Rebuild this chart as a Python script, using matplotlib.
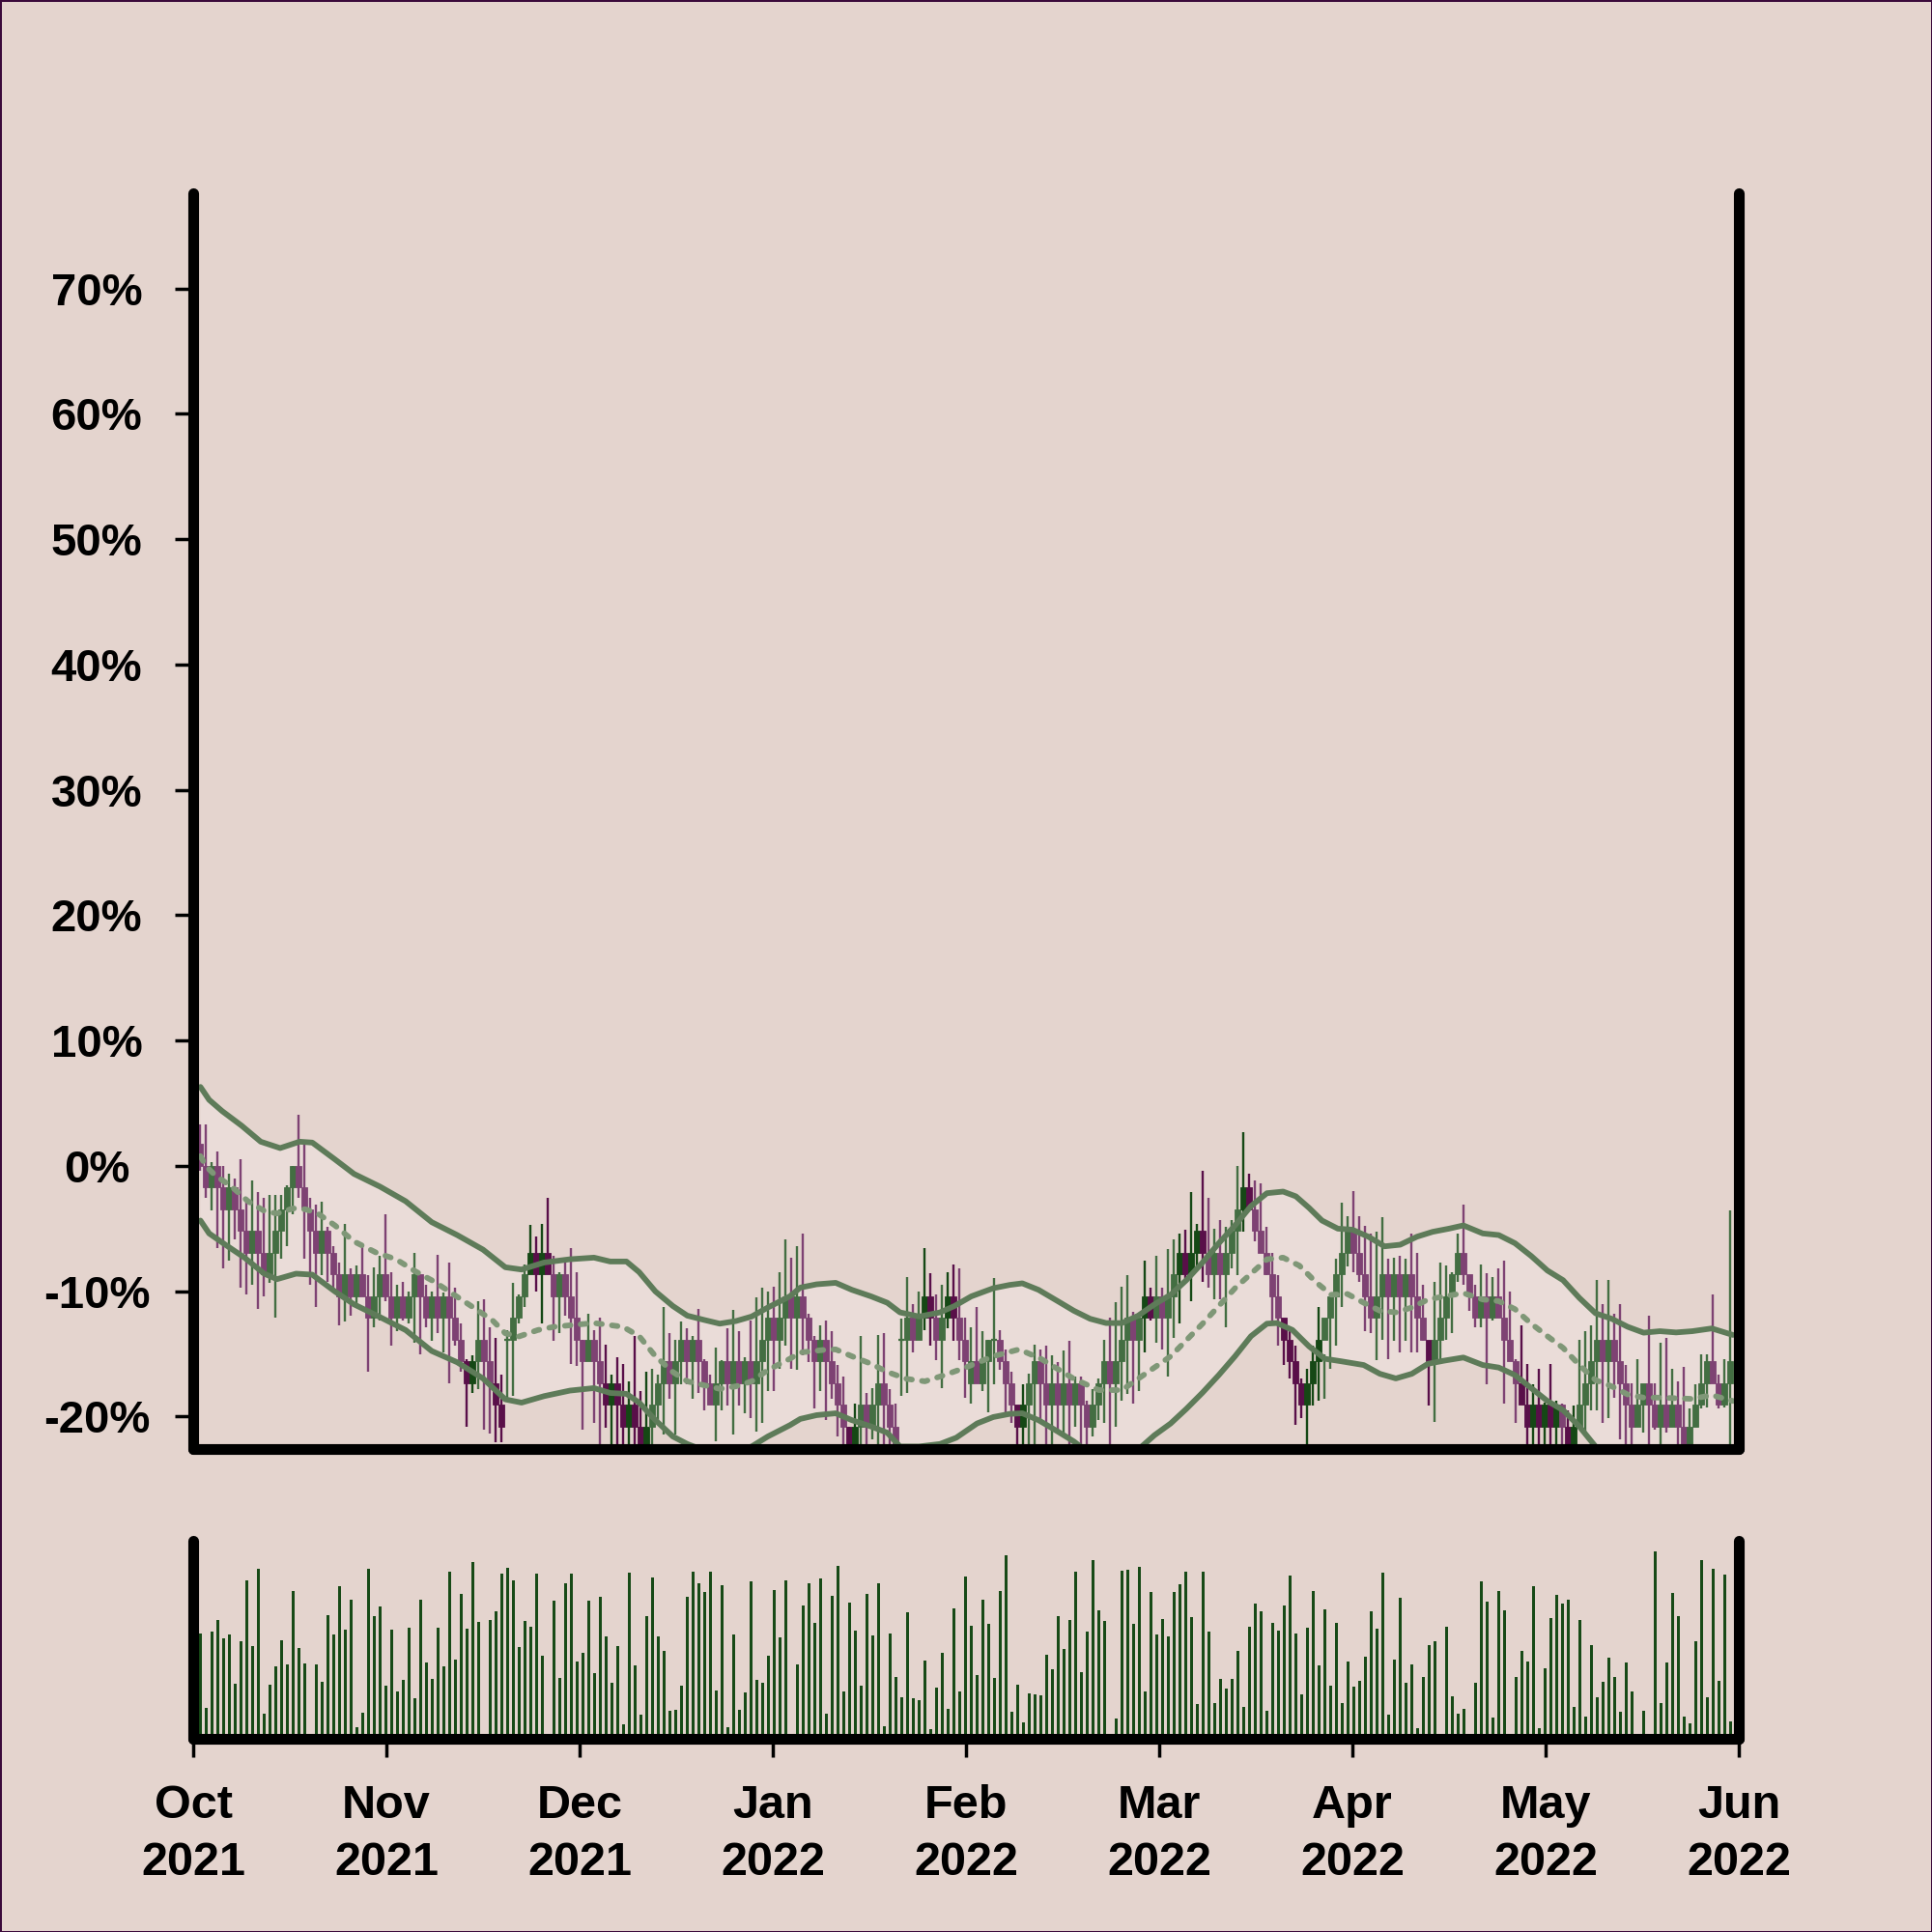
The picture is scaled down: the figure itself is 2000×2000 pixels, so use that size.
import matplotlib.pyplot as plt
import numpy as np

# ---------------------------------------------------------------- data
STEP = 1.733          # one price level, in %

# close level of every candle (k = 0 .. 264)
close_lvl = [0, -1, 0, -1, -2, -1, -2, -3, -4, -3,
             -4, -5, -4, -3, -2, -1, 0, -1, -2, -3,
             -4, -3, -4, -5, -6, -5, -6, -5, -6, -7,
             -6, -5, -6, -7, -6, -7, -6, -5, -6, -7,
             -6, -7, -6, -7, -8, -9, -10, -9, -8, -9,
             -10, -11, -12, -8, -7, -6, -5, -4, -5, -4,
             -5, -6, -5, -6, -7, -8, -9, -8, -9, -10,
             -11, -10, -11, -12, -11, -12, -13, -12, -11, -10,
             -9, -10, -9, -8, -9, -8, -9, -10, -11, -10,
             -9, -10, -9, -10, -9, -10, -9, -8, -7, -8,
             -7, -6, -7, -6, -7, -8, -9, -8, -9, -10,
             -11, -12, -13, -12, -11, -12, -11, -10, -11, -12,
             -13, -8, -7, -8, -7, -6, -7, -8, -7, -6,
             -7, -8, -9, -9, -10, -9, -8, -8, -9, -10,
             -11, -12, -11, -10, -9, -10, -11, -10, -11, -10,
             -11, -10, -11, -12, -11, -10, -9, -10, -9, -8,
             -7, -8, -7, -6, -7, -6, -7, -6, -5, -4,
             -5, -4, -3, -4, -5, -4, -5, -4, -3, -2,
             -1, -2, -3, -4, -5, -6, -7, -8, -9, -10,
             -11, -10, -9, -8, -7, -6, -5, -4, -3, -4,
             -5, -6, -7, -6, -5, -6, -5, -6, -5, -6,
             -7, -8, -9, -8, -7, -6, -5, -4, -5, -6,
             -7, -6, -7, -6, -7, -8, -9, -10, -11, -12,
             -11, -12, -11, -12, -11, -12, -13, -12, -11, -10,
             -9, -8, -9, -8, -9, -10, -11, -12, -11, -10,
             -11, -12, -11, -12, -11, -12, -13, -12, -11, -10,
             -9, -10, -11, -10, -9]
# opens that do not equal the previous close
open_gap = {0: 1, 53: -8, 121: -8, 133: -10}
# candles drawn in the darker shade
dark_idx = [46, 47, 51, 52, 57, 58, 59, 60, 70, 71, 72, 73, 74, 75, 76, 77,
            112, 113, 125, 126, 129, 130, 141, 142, 163, 164, 169, 170, 171,
            172, 173, 180, 181, 187, 188, 189, 190, 191, 192, 193, 212, 228,
            229, 230, 231, 232, 233, 234, 236, 237]

# wick ends in % (-25 = below the visible range)
high = [3.33, 3.33, 0.3, 1.15, 0.0, -0.65, -1.03, 0.51, -2.57, -1.16,
        -2.06, -2.57, -2.32, -2.32, -2.32, -1.55, 0.0, 4.1, 1.66, -2.57,
        -3.09, -2.83, -4.88, -6.43, -7.71, -4.63, -8.22, -7.97, -6.43, -8.74,
        -8.1, -7.2, -3.86, -8.48, -9.51, -9.25, -10.02, -6.94, -8.74, -9.51,
        -10.02, -7.07, -10.15, -7.71, -9.76, -12.59, -15.41, -15.16, -10.79, -10.66,
        -12.85, -13.75, -16.7, -13.1, -9.38, -10.28, -7.84, -4.75, -5.65, -4.62,
        -2.57, -7.2, -8.48, -7.71, -6.55, -8.5, -13.87, -11.82, -13.1, -12.08,
        -14.26, -16.7, -15.29, -15.8, -17.21, -13.62, -17.98, -16.44, -16.19, -16.7,
        -11.3, -13.36, -13.87, -12.46, -12.97, -13.62, -11.43, -15.41, -16.7, -14.52,
        -15.54, -12.97, -11.51, -13.23, -15.29, -12.33, -10.53, -9.76, -10.02, -9.64,
        -8.48, -5.91, -7.32, -6.43, -5.4, -11.82, -13.62, -12.71, -12.33, -13.23,
        -15.93, -16.83, -20.81, -19.01, -13.62, -18.11, -17.72, -13.49, -13.36, -17.85,
        -19.01, -12.2, -8.87, -11.05, -10.02, -6.55, -8.61, -10.28, -9.51, -8.48,
        -7.84, -8.22, -12.08, -12.85, -11.3, -13.23, -13.87, -8.99, -13.1, -14.64,
        -16.44, -19.39, -17.47, -16.57, -14.26, -14.64, -14.39, -15.16, -15.67, -14.77,
        -14.0, -16.83, -16.83, -18.75, -17.85, -16.95, -13.87, -12.08, -10.92, -9.64,
        -8.74, -11.69, -12.97, -7.58, -9.76, -7.2, -9.76, -6.68, -5.91, -5.4,
        -5.14, -2.06, -4.63, -0.39, -2.57, -5.01, -4.37, -4.88, -4.37, 0.0,
        2.69, -0.65, -1.16, -1.42, -4.88, -6.94, -8.74, -12.59, -12.85, -14.39,
        -16.95, -16.19, -14.39, -11.3, -15.03, -11.56, -7.45, -2.96, -4.0, -2.0,
        -3.99, -4.76, -5.4, -5.27, -4.12, -7.45, -7.32, -7.2, -7.45, -5.4,
        -6.94, -9.51, -14.39, -9.25, -7.71, -7.97, -8.48, -5.4, -3.09, -9.12,
        -9.51, -7.84, -8.61, -8.87, -8.22, -7.58, -10.02, -15.41, -12.72, -15.8,
        -17.47, -16.19, -18.88, -15.8, -18.75, -19.01, -19.52, -19.14, -13.87, -13.23,
        -12.72, -9.12, -11.05, -9.12, -11.82, -11.05, -15.93, -17.34, -15.41, -17.47,
        -11.95, -17.34, -14.13, -13.75, -16.19, -17.21, -16.06, -19.39, -17.47, -15.03,
        -15.03, -10.28, -16.7, -15.41, -3.6]
low = [-0.39, -2.57, -3.6, -6.55, -8.22, -7.58, -5.9, -9.76, -10.28, -9.51,
       -11.43, -10.4, -9.38, -12.08, -7.45, -6.43, -3.86, -2.57, -7.45, -9.51,
       -11.3, -8.74, -9.25, -10.02, -12.72, -12.46, -11.95, -11.05, -10.28, -16.44,
       -12.85, -12.33, -10.79, -14.39, -13.23, -12.33, -12.59, -14.13, -15.03, -12.85,
       -14.0, -13.36, -14.9, -17.34, -14.39, -16.44, -20.81, -18.11, -17.85, -21.07,
       -21.33, -22.09, -22.09, -18.5, -18.37, -12.59, -11.3, -7.97, -10.02, -12.59,
       -8.48, -14.0, -13.36, -12.0, -15.8, -16.0, -21.06, -15.16, -20.55, -25,
       -20.94, -25, -25, -25, -25, -25, -25, -25, -25, -20.55,
       -21.45, -18.62, -21.45, -17.47, -17.47, -18.62, -18.11, -19.52, -18.88, -21.96,
       -19.52, -19.14, -21.45, -19.14, -19.78, -20.17, -21.19, -20.55, -17.98, -17.98,
       -16.19, -14.39, -16.19, -16.31, -15.16, -15.67, -19.39, -17.98, -20.29, -18.62,
       -21.58, -25, -25, -25, -25, -25, -21.83, -25, -25, -25,
       -25, -18.37, -18.11, -14.9, -13.87, -13.1, -14.39, -15.5, -17.72, -13.0,
       -14.0, -15.5, -18.5, -19.01, -17.21, -17.98, -19.65, -17.47, -16.31, -19.78,
       -20.55, -25, -25, -25, -25, -20.55, -25, -25, -21.32, -21.58,
       -25, -20.81, -25, -25, -21.58, -20.29, -20.55, -25, -20.81, -18.75,
       -18.24, -19.01, -17.98, -14.9, -12.33, -14.13, -14.64, -16.83, -13.75, -12.59,
       -9.25, -10.79, -8.22, -9.25, -9.76, -10.66, -10.66, -12.85, -8.22, -8.74,
       -5.27, -3.34, -6.04, -6.94, -8.74, -12.33, -14.39, -15.93, -16.95, -20.68,
       -20.17, -25, -19.14, -18.75, -18.62, -16.19, -14.39, -11.3, -8.0, -8.5,
       -9.25, -13.23, -13.36, -15.54, -13.87, -15.41, -14.0, -14.9, -14.0, -14.9,
       -14.9, -14.0, -19.14, -20.42, -15.41, -13.87, -13.36, -9.25, -9.51, -11.56,
       -12.85, -12.85, -17.47, -12.33, -11.82, -19.01, -14.0, -20.55, -19.01, -25,
       -25, -25, -25, -25, -25, -25, -25, -25, -20.68, -21.32,
       -19.52, -19.52, -20.55, -20.17, -18.5, -21.83, -25, -25, -20.17, -21.32,
       -25, -21.07, -25, -21.32, -20.55, -25, -25, -25, -20.55, -19.39,
       -19.27, -17.21, -19.39, -19.27, -25]

# volume (arbitrary units)
volume = [109, 32, 111, 123, 104, 108, 57, 101, 164, 96,
          176, 26, 56, 75, 102, 77, 153, 94, 78, 0,
          77, 59, 128, 108, 158, 113, 144, 12, 27, 176,
          127, 137, 55, 113, 49, 61, 115, 42, 144, 79,
          62, 115, 75, 173, 82, 150, 114, 183, 121, 2,
          123, 132, 171, 177, 164, 95, 122, 116, 171, 86,
          2, 143, 63, 161, 171, 80, 89, 143, 68, 147,
          106, 58, 96, 15, 172, 76, 25, 127, 167, 106,
          91, 29, 30, 55, 147, 173, 161, 152, 173, 50,
          159, 12, 108, 30, 48, 163, 61, 58, 86, 154,
          105, 164, 0, 77, 138, 161, 120, 166, 26, 148,
          179, 49, 141, 112, 55, 150, 107, 161, 13, 109,
          64, 43, 131, 42, 40, 81, 10, 53, 89, 31,
          135, 49, 168, 117,
          66, 144, 119, 63, 153, 190, 28, 56, 17, 47,
          46, 45, 87, 72, 127, 93, 123, 173, 69, 111,
          185, 133, 122, 2, 21, 174, 175, 119, 178, 49,
          152, 108, 124, 106, 152, 160, 173, 126, 36, 173,
          111, 37, 62, 52, 62, 91, 33, 116, 140, 132,
          29, 120, 112, 138, 169, 109, 46, 115, 153, 76,
          134, 55, 120, 37, 80, 54, 60, 85, 132, 114,
          172, 25, 82, 146, 58, 77, 11, 64, 97, 101,
          0, 116, 44, 26, 31, 0, 58, 163, 142, 22,
          153, 133, 2, 64, 91, 80, 158, 11, 73, 125,
          149, 140, 144, 33, 123, 23, 97, 43, 59, 84,
          64, 28, 79, 49, 0, 29, 2, 194, 37, 79,
          151, 127, 23, 16, 101, 185, 43, 176, 60, 170,
          18]

# bollinger bands (candle index, %)
upper_k = [0, 1.5, 3.75, 7.1, 10.4, 13.75, 17.1, 19.3, 23.2, 26.5, 31, 35.4,
           39.9, 44.3, 48.75, 52.6, 55.4, 59.3, 63.75, 67.9, 70.7, 73.5, 75.7,
           78.5, 81.5, 84, 86.8, 89.6, 92.4, 95.1, 97.9, 101.7, 103.5, 106.3,
           109.6, 112.4, 115.7, 118.5, 120.7, 124, 127.6, 130.1, 133, 136.8,
           139.6, 141.8, 144.6, 147.9, 150.7, 153.5, 156.25, 159, 161.8,
           164.6, 167.4, 170.1, 172.9, 175.7, 178.5, 181.25, 184, 186.8, 189,
           191.25, 193.5, 196.25, 198.75, 201.5, 204.3, 207, 209.9, 212.6,
           215.4, 217.9, 221.25, 224, 226.8, 229.6, 232.4, 235.1, 237.9,
           240.7, 243.5, 246.25, 249, 251.8, 254.6, 257.4, 260.75, 264.4]
upper_v = [6.29, 5.26, 4.36, 3.2, 1.92, 1.41, 1.92, 1.85, 0.51, -0.65, -1.67,
           -2.83, -4.5, -5.53, -6.69, -8.1, -8.28, -7.72, -7.46, -7.33, -7.64,
           -7.64, -8.49, -10.03, -11.19, -11.96, -12.29, -12.6, -12.39, -12.03,
           -11.31, -10.42, -9.72, -9.46, -9.34, -9.9, -10.42, -10.93, -11.7,
           -12.03, -11.7, -11.19, -10.42, -9.77, -9.51, -9.38, -9.9, -10.8,
           -11.57, -12.21, -12.55, -12.55, -11.96, -11.06, -10.29, -9.13,
           -7.72, -6.18, -4.76, -3.22, -2.19, -2.06, -2.44, -3.35, -4.37,
           -5.02, -5.1, -5.66, -6.43, -6.3, -5.66, -5.27, -5.02, -4.76, -5.4,
           -5.53, -6.18, -7.2, -8.36, -9.13, -10.54, -11.77, -12.21, -12.85,
           -13.32, -13.2, -13.3, -13.2, -12.98, -13.5]
mid_k = [0, 1, 2.6, 5.4, 8.2, 11, 13.2, 16, 18.2, 20.4, 23.2, 26.5, 30.4,
         33.75, 37.1, 40.4, 43.75, 47.1, 50.4, 52.6, 54.9, 58.2, 61, 63.75,
         67.9, 72.9, 75.7, 78.5, 81.5, 84, 86.8, 89.6, 92.4, 95.1, 97.9,
         101.7, 103.5, 107.4, 109.6, 112.4, 115.7, 118.5, 121.8, 125, 128.4,
         132, 136.8, 141.25, 145, 150.7, 155, 159, 162.4, 167.4, 172.9, 178.5,
         184, 186.8, 189.6, 192.4, 195.1, 197.9, 200.7, 203.5, 206.25, 209,
         211.8, 214.6, 217.9, 221.25, 224, 226.8, 229.6, 232.4, 235.1, 237.9,
         240.7, 243.5, 246.25, 249, 251.8, 254.6, 257.4, 260.75, 264.4]
mid_v = [0.77, -0.06, -0.78, -1.67, -2.83, -3.6, -3.81, -3.4, -3.48, -3.86,
         -4.76, -6.04, -6.95, -7.46, -8.43, -9.26, -10.29, -11.31, -12.34,
         -13.37, -13.63, -13.11, -12.85, -12.73, -12.55, -12.85, -13.6, -15.2,
         -16.45, -17.2, -17.5, -17.8, -17.6, -17.2, -16.3, -15.4, -14.9,
         -14.7, -14.65, -15.2, -15.8, -16.45, -17.0, -17.2, -16.7, -16.1,
         -15.2, -14.65, -15.4, -17.0, -17.9, -17.9, -16.8, -15.2, -12.6,
         -9.77, -7.46, -7.33, -7.97, -9.26, -10.29, -10.23, -10.93, -11.57,
         -11.7, -11.31, -10.67, -10.42, -10.16, -10.67, -10.8, -11.44, -12.6,
         -13.6, -14.53, -15.9, -17.1, -17.6, -18.25, -18.5, -18.5, -18.55,
         -18.6, -18.3, -18.77]
lower_k = [0, 1.5, 4.3, 7.6, 11, 13.2, 16.5, 19.3, 23.2, 26.5, 31, 35.4,
           39.9, 44.3, 48.75, 52.6, 55.4, 59.3, 63.75, 67.9, 70.7, 73.5, 75.7,
           78.5, 81.5, 84, 86.8, 89.6, 92.4, 95.1, 97.9, 101.7, 103.5, 106.3,
           109.6, 112.4, 115.7, 118.5, 120.7, 124, 127.6, 130.4, 134, 136.8,
           139.6, 141.8, 144.6, 147.9, 150.7, 153.5, 156.25, 159, 162.4,
           164.6, 167.4, 170.1, 172.9, 175.7, 178.5, 181.25, 184, 185.7,
           188.4, 191.25, 194, 196.8, 200.7, 203.5, 206.25, 209, 211.8, 214.6,
           217.9, 221.25, 224, 226.8, 229.6, 232.4, 235.1, 237.9, 240.7,
           243.5, 246.25, 249, 251.8, 254.6, 257.4, 260.75, 264.4]
lower_v = [-4.37, -5.4, -6.3, -7.33, -8.61, -9.05, -8.61, -8.69, -10.03,
           -11.06, -12.08, -13.11, -14.78, -15.68, -16.97, -18.64, -18.9,
           -18.38, -17.94, -17.74, -18.13, -18.2, -18.9, -20.3, -21.6, -22.2,
           -22.7, -23.0, -22.8, -22.4, -21.6, -20.7, -20.2, -19.9, -19.75,
           -20.3, -20.8, -21.3, -22.4, -22.4, -22.2, -21.7, -20.56, -20.05,
           -19.8, -19.75, -20.3, -21.2, -22.0, -23.0, -23.25, -23.25, -22.4,
           -21.5, -20.56, -19.4, -18.1, -16.7, -15.2, -13.6, -12.6, -12.55,
           -13.1, -14.4, -15.4, -15.6, -15.9, -16.6, -16.97, -16.6, -15.8,
           -15.55, -15.3, -15.9, -16.1, -16.7, -17.74, -18.77, -19.5, -20.8,
           -22.4, -23.0, -23.65, -23.7, -23.8, -23.8, -24.0, -23.6, -24.0]

y_ticks = [-20, -10, 0, 10, 20, 30, 40, 50, 60, 70]
y_labels = ['-20%', '-10%', '0%', '10%', '20%', '30%', '40%', '50%', '60%', '70%']
x_labels = ['Oct\n2021', 'Nov\n2021', 'Dec\n2021', 'Jan\n2022', 'Feb\n2022',
            'Mar\n2022', 'Apr\n2022', 'May\n2022', 'Jun\n2022']

# ---------------------------------------------------------------- style
BG = '#e4d4ce'
BAND_FILL = '#eadcd8'
BAND = '#5e7b59'
MID = '#7f9777'
GREEN, GREEN_D = '#436e42', '#154815'
PURPLE, PURPLE_D = '#7e4273', '#590f49'
VOLC = '#174a17'

plt.rcParams['font.family'] = ['Liberation Sans', 'DejaVu Sans']
plt.rcParams['font.weight'] = 'bold'

fig = plt.figure(figsize=(20, 20), dpi=100, facecolor=BG)
fig.patch.set_edgecolor('#3b0a3b')
fig.patch.set_linewidth(2)
ax = fig.add_axes([0.1, 0.25, 0.8, 0.65])
axv = fig.add_axes([0.1, 0.1, 0.8, 0.1025], sharex=ax)
for a in (ax, axv):
    a.set_facecolor(BG)
    a.spines['top'].set_visible(False)
    for s in ('left', 'right', 'bottom'):
        a.spines[s].set_linewidth(8)
        a.spines[s].set_capstyle('round')
        a.spines[s].set_zorder(6)

# ---------------------------------------------------------------- candles
k = np.arange(len(close_lvl))
cls = np.array(close_lvl, dtype=float) * STEP
opn = np.r_[np.nan, cls[:-1]]
for i, lv in open_gap.items():
    opn[i] = lv * STEP
dark = np.isin(k, dark_idx)
up = cls >= opn
col = np.where(up, np.where(dark, GREEN_D, GREEN), np.where(dark, PURPLE_D, PURPLE))

# band area
ax.fill(np.r_[upper_k, lower_k[::-1]], np.r_[upper_v, lower_v[::-1]],
        color=BAND_FILL, lw=0, zorder=1)

ax.vlines(k, low, high, colors=col, lw=1.7, zorder=2)
body = cls - opn
ax.bar(k, body, bottom=opn, width=1.0, color=col, edgecolor=col, lw=0.6, zorder=3)
doji = body == 0
ax.hlines(cls[doji], k[doji] - 0.5, k[doji] + 0.5, colors=GREEN, lw=1.6, zorder=3)

ax.plot(upper_k, upper_v, color=BAND, lw=4.2, zorder=4, solid_capstyle='round')
ax.plot(lower_k, lower_v, color=BAND, lw=4.2, zorder=4, solid_capstyle='round')
ax.plot(mid_k, mid_v, color=MID, lw=4.2, ls=(0, (1.0, 1.8)), zorder=4,
        dash_capstyle='round')

xmin, xmax = -1.25, 265.42
ax.set_xlim(xmin, xmax)
ax.set_ylim(-22.6, 77.6)
ax.set_yticks(y_ticks)
ax.set_yticklabels(y_labels, fontsize=34, fontweight='bold', ha='center')
ax.tick_params(axis='y', length=14, width=2.5, pad=58)
ax.tick_params(axis='x', bottom=False, labelbottom=False)

# ---------------------------------------------------------------- volume
axv.bar(k, volume, width=0.65, color=VOLC, lw=0)
axv.set_ylim(0, 205)
axv.set_yticks([])
axv.set_xticks(np.linspace(xmin, xmax, 9))
axv.set_xticklabels(x_labels, fontsize=35, fontweight='bold', linespacing=1.4)
axv.tick_params(axis='x', length=14, width=2.5, pad=20)

fig.savefig('out.png', dpi=100, facecolor=BG, edgecolor=fig.patch.get_edgecolor())
